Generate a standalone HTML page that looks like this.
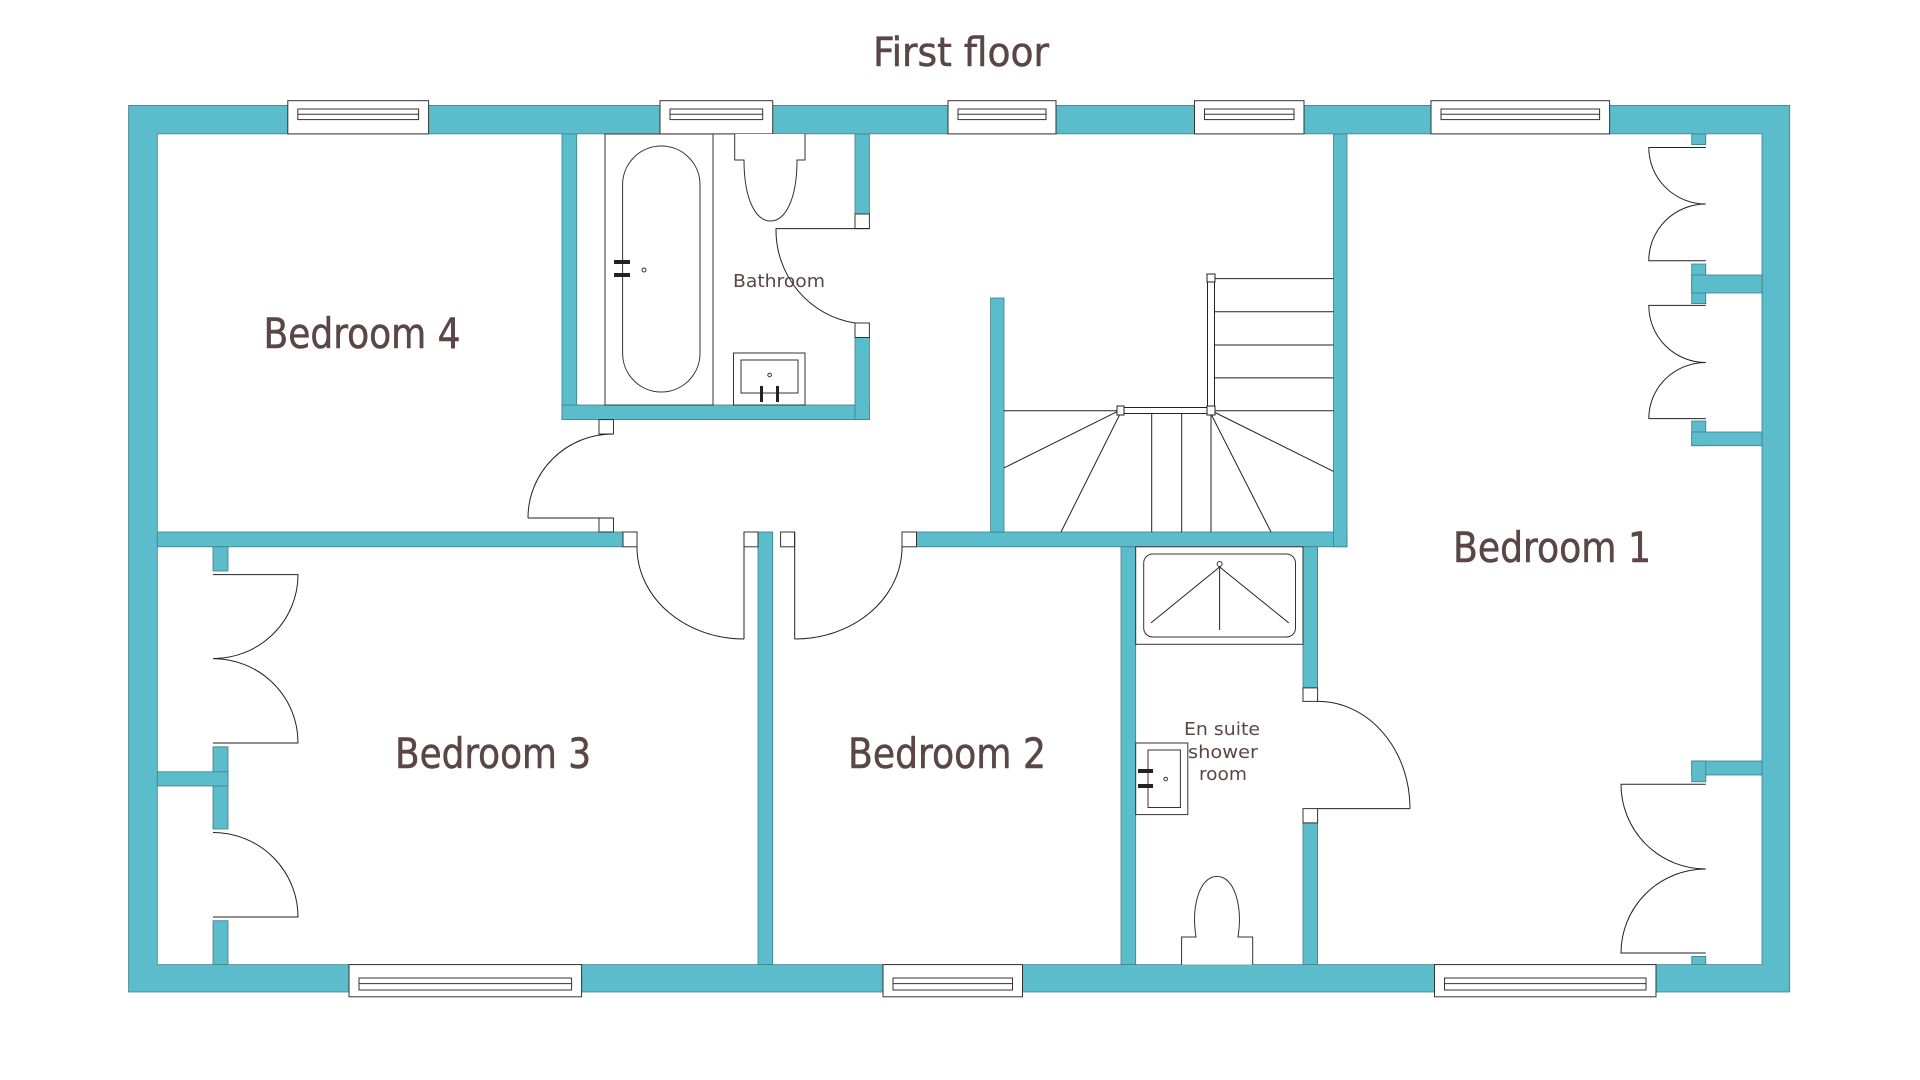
<!DOCTYPE html>
<html><head><meta charset="utf-8"><style>html,body{margin:0;padding:0;background:#fff}svg{display:block}</style></head>
<body>
<svg width="1920" height="1080" viewBox="0 0 1920 1080" xmlns="http://www.w3.org/2000/svg" font-family="'DejaVu Sans Condensed','Liberation Sans',sans-serif">
<g fill="#5bbccb" stroke="#3f7d86" stroke-width="0.8">
<path fill-rule="evenodd" d="M128.6,105.4H1789.7V992H128.6Z M157.3,133.9V964.6H1762V133.9Z"/>
<rect x="562" y="133.9" width="14.7" height="285.7"/>
<rect x="562" y="405" width="307.4" height="14.6"/>
<rect x="855" y="133.9" width="14.4" height="80.1"/>
<rect x="855" y="337.5" width="14.4" height="82.1"/>
<rect x="157.3" y="532" width="465.7" height="14.8"/>
<rect x="758" y="532" width="14.7" height="432.6"/>
<rect x="916.5" y="532" width="430.5" height="14.8"/>
<rect x="1333.5" y="133.9" width="13.5" height="412.9"/>
<rect x="990.6" y="298" width="13.4" height="234"/>
<rect x="1121" y="546.8" width="14.7" height="417.8"/>
<rect x="1303" y="546.8" width="14.6" height="141.1"/>
<rect x="1303" y="822.9" width="14.6" height="141.7"/>
<rect x="213" y="546.8" width="15" height="24.2"/>
<rect x="213" y="746.8" width="15" height="82.2"/>
<rect x="157.3" y="771.8" width="70.7" height="14.2"/>
<rect x="213" y="920.7" width="15" height="43.9"/>
<rect x="1691.7" y="133.9" width="14.1" height="10.7"/>
<rect x="1691.7" y="264" width="14.1" height="39.6"/>
<rect x="1691.7" y="275" width="70.3" height="18"/>
<rect x="1691.7" y="421" width="14.1" height="24.7"/>
<rect x="1691.7" y="432" width="70.3" height="13.7"/>
<rect x="1691.7" y="761" width="70.3" height="14"/>
<rect x="1691.7" y="761" width="14.1" height="20.8"/>
<rect x="1691.7" y="956.4" width="14.1" height="8.2"/>
</g>
<g fill="#fff" stroke="#333" stroke-width="1">
<rect x="855" y="214" width="14.4" height="14.6"/><rect x="855" y="323" width="14.4" height="14.5"/>
<rect x="599" y="419.6" width="14.5" height="14.4"/><rect x="599" y="518" width="14.5" height="14"/>
<rect x="623" y="532" width="14" height="14.8"/><rect x="744" y="532" width="14" height="14.8"/>
<rect x="780.6" y="532" width="14" height="14.8"/><rect x="902" y="532" width="14.5" height="14.8"/>
<rect x="1303" y="687.9" width="14.6" height="13.5"/><rect x="1303" y="808.6" width="14.6" height="14.3"/>
<rect x="287.8" y="100.7" width="140.8" height="33.2"/><rect x="297.8" y="109" width="120.8" height="10.6"/><line x1="297.8" y1="114.3" x2="418.6" y2="114.3"/>
<rect x="660" y="100.7" width="112.7" height="33.2"/><rect x="670" y="109" width="92.7" height="10.6"/><line x1="670" y1="114.3" x2="762.7" y2="114.3"/>
<rect x="948" y="100.7" width="108" height="33.2"/><rect x="958" y="109" width="88" height="10.6"/><line x1="958" y1="114.3" x2="1046" y2="114.3"/>
<rect x="1194.5" y="100.7" width="109.5" height="33.2"/><rect x="1204.5" y="109" width="89.5" height="10.6"/><line x1="1204.5" y1="114.3" x2="1294" y2="114.3"/>
<rect x="1431" y="100.7" width="178.6" height="33.2"/><rect x="1441" y="109" width="158.6" height="10.6"/><line x1="1441" y1="114.3" x2="1599.6" y2="114.3"/>
<rect x="349" y="964.6" width="232.6" height="32.2"/><rect x="359" y="978" width="212.6" height="12"/><line x1="359" y1="983.6" x2="571.6" y2="983.6"/>
<rect x="883" y="964.6" width="139.5" height="32.2"/><rect x="893" y="978" width="119.5" height="12"/><line x1="893" y1="983.6" x2="1012.5" y2="983.6"/>
<rect x="1434.5" y="964.6" width="221.5" height="32.2"/><rect x="1444.5" y="978" width="201.5" height="12"/><line x1="1444.5" y1="983.6" x2="1646" y2="983.6"/>
<rect x="605" y="134" width="108" height="271"/>
<rect x="622.6" y="146" width="77.4" height="246" rx="38.7" ry="38.7"/>
<path d="M734.7,134V160H744 C744,200 756,221 770.5,221 C785,221 797,200 797,160 H805V134"/>
<rect x="733.5" y="353" width="71.5" height="52"/><rect x="741" y="360" width="57" height="33"/>
<circle cx="644" cy="270" r="2"/><circle cx="769.6" cy="375" r="1.8"/>
<rect x="1135.7" y="546.8" width="167.3" height="97.5"/>
<rect x="1143.7" y="554" width="151.8" height="83" rx="9"/>
<circle cx="1219.6" cy="564" r="2.5"/>
<rect x="1135.7" y="743" width="52.1" height="71.6"/><rect x="1148" y="750" width="32.4" height="57.5"/>
<circle cx="1165.7" cy="779" r="1.8"/>
<path d="M1181.6,964.6V937H1196 C1191,905 1200,876.4 1217,876.4 C1234,876.4 1243,905 1238,937 H1252.7V964.6"/>
</g>
<g fill="#222"><rect x="614" y="260" width="16" height="4"/><rect x="614" y="273" width="16" height="4"/>
<rect x="760" y="386" width="3" height="16"/><rect x="776" y="386" width="3" height="16"/>
<rect x="1138" y="769" width="15" height="4"/><rect x="1138" y="784" width="15" height="4"/></g>
<g fill="none" stroke="#222" stroke-width="1">
<line x1="1219.6" y1="567" x2="1151" y2="622.9"/><line x1="1219.6" y1="567" x2="1219.6" y2="630"/><line x1="1219.6" y1="567" x2="1288.8" y2="622.9"/>
<path d="M869.4,228.6H776 A93,94 0 0 0 855,323"/>
<path d="M613,518H528 M613,434 A85,84 0 0 0 528,518"/>
<path d="M744,532V639 M637,547 A107,92 0 0 0 744,639"/>
<path d="M794.7,532V639 M902,547 A107,92 0 0 1 794.7,639"/>
<path d="M1317.6,808.6H1410 M1317.6,701.4 A92,107 0 0 1 1410,808.6"/>
<path d="M213,574.6H298 A85,84 0 0 1 213,658.6 A85,84 0 0 1 298,743 H213"/>
<path d="M213,832.5 A85,84.5 0 0 1 298,917 H213"/>
<path d="M1705.8,147.5H1648.8 A57,56.5 0 0 0 1705.8,204 A57,56.7 0 0 0 1648.8,260.7 H1705.8"/>
<path d="M1705.8,305.4H1648.8 A57,57 0 0 0 1705.8,362.5 A57,56 0 0 0 1648.8,418.6 H1705.8"/>
<path d="M1705.8,784.3H1621 A84.8,84.7 0 0 0 1705.8,869 A84.8,84 0 0 0 1621,953 H1705.8"/>
<line x1="1215" y1="278.6" x2="1333.5" y2="278.6"/><line x1="1215" y1="311.8" x2="1333.5" y2="311.8"/>
<line x1="1215" y1="345" x2="1333.5" y2="345"/><line x1="1215" y1="377.9" x2="1333.5" y2="377.9"/>
<line x1="1004" y1="410.7" x2="1333.5" y2="410.7"/>
<line x1="1119" y1="410.7" x2="1004" y2="467.9"/><line x1="1120" y1="414" x2="1061" y2="532"/>
<line x1="1151.7" y1="414" x2="1151.7" y2="532"/><line x1="1181.7" y1="414" x2="1181.7" y2="532"/>
<line x1="1211" y1="414" x2="1211" y2="532"/>
<line x1="1211" y1="414" x2="1271" y2="532"/><line x1="1214" y1="412" x2="1333.5" y2="471.4"/>
</g>
<g fill="#fff" stroke="#222" stroke-width="1">
<rect x="1207.5" y="274" width="7" height="140"/><rect x="1119" y="407.5" width="92" height="6"/>
<rect x="1207" y="274" width="8" height="8"/><rect x="1117" y="406" width="7" height="9"/><rect x="1207" y="406" width="8" height="9"/>
</g>
<g fill="#5b4646" stroke="#5b4646" stroke-width="0.5">
<text x="961" y="66" font-size="40" text-anchor="middle" textLength="176" lengthAdjust="spacingAndGlyphs">First floor</text>
<text x="362" y="348" font-size="42" text-anchor="middle" textLength="197" lengthAdjust="spacingAndGlyphs">Bedroom 4</text>
<text x="493" y="768" font-size="42" text-anchor="middle" textLength="196" lengthAdjust="spacingAndGlyphs">Bedroom 3</text>
<text x="947" y="768" font-size="42" text-anchor="middle" textLength="198" lengthAdjust="spacingAndGlyphs">Bedroom 2</text>
<text x="1552" y="562" font-size="42" text-anchor="middle" textLength="198" lengthAdjust="spacingAndGlyphs">Bedroom 1</text>
</g>
<g fill="#5b4646">
<text x="779" y="287" font-size="18" text-anchor="middle" textLength="92" lengthAdjust="spacingAndGlyphs">Bathroom</text>
<text x="1222" y="735" font-size="18" text-anchor="middle" textLength="76" lengthAdjust="spacingAndGlyphs">En suite</text>
<text x="1223" y="758" font-size="18" text-anchor="middle" textLength="70" lengthAdjust="spacingAndGlyphs">shower</text>
<text x="1223" y="780" font-size="18" text-anchor="middle" textLength="48" lengthAdjust="spacingAndGlyphs">room</text>
</g>
</svg>
</body></html>
